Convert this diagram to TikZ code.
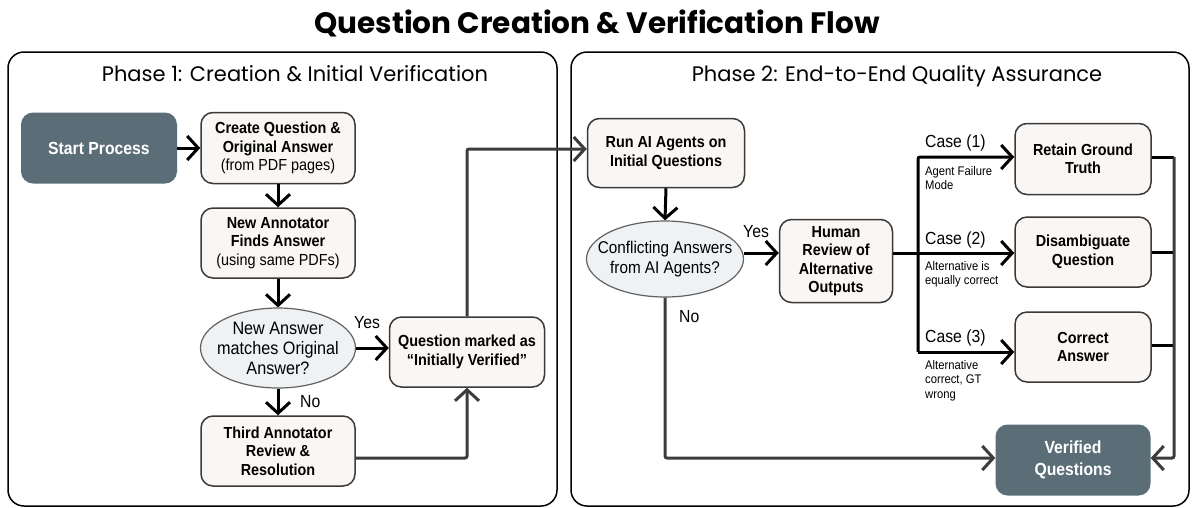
\documentclass[tikz,border=0pt]{standalone}
\usepackage{fontspec}
\setmainfont{Liberation Sans}[FakeStretch=0.9]
\newfontfamily\titlefont{Poppins}
\usetikzlibrary{arrows.meta,shapes.geometric,calc}
\definecolor{slate}{HTML}{5B6E78}
\definecolor{cream}{HTML}{F9F6F3}
\definecolor{mist}{HTML}{EEF2F5}
\definecolor{edge}{HTML}{3A3A3A}
\definecolor{wire}{HTML}{3C3C3C}
\tikzset{
  phasebox/.style={draw=black, line width=1.5pt, rounded corners=16pt},
  phasetitle/.style={font=\titlefont\fontsize{21}{24}\selectfont, anchor=base},
  stepbox/.style={draw=edge, fill=cream, line width=1.5pt, rounded corners=12pt,
    align=center, inner sep=0pt, font=\bfseries\fontsize{16}{18.5}\selectfont},
  darkbox/.style={draw=none, fill=slate, rounded corners=12pt, text=white,
    align=center, inner sep=0pt, font=\bfseries\fontsize{17.5}{22}\selectfont},
  question/.style={ellipse, draw=edge!80, fill=mist, line width=1.2pt,
    inner sep=0pt},
  tip/.style={-{Straight Barb[length=11pt,width=24pt]}},
  flow/.style={line width=3pt, draw=black, tip},
  loop/.style={line width=3pt, draw=wire, rounded corners=2pt, tip},
  bus/.style={line width=3pt, draw=black},
  lbl/.style={font=\fontsize{17.5}{20}\selectfont, inner sep=0pt},
  note/.style={font=\fontsize{12.5}{14.5}\selectfont, align=left, inner sep=0pt},
}
\begin{document}
\begin{tikzpicture}[x=1pt, y=-1pt]
\useasboundingbox (0,0) rectangle (1193,507);

% title and the two phase frames
\node[anchor=base, inner sep=0pt] (title) at (597,33)
  {\titlefont\bfseries\fontsize{29.5}{32}\selectfont Question Creation \& Verification Flow};
\draw[phasebox] (8,52) rectangle (557,506);
\draw[phasebox] (571,52) rectangle (1189,506);
\node[phasetitle] (p1) at (295,81) {Phase 1: Creation \& Initial Verification};
\node[phasetitle] (p2) at (897,81) {Phase 2: End-to-End Quality Assurance};

% phase 1 nodes
\node[darkbox, minimum width=156pt, minimum height=71pt] (start) at (99,148) {Start Process};
\node[stepbox, minimum width=154pt, minimum height=71pt] (create) at (278,148)
  {Create Question \&\\Original Answer\\{\mdseries (from PDF pages)}};
\node[stepbox, minimum width=154pt, minimum height=70pt] (newann) at (278,243)
  {New Annotator\\Finds Answer\\{\mdseries (using same PDFs)}};
\node[question, minimum width=155pt, minimum height=80pt,
  label={[align=center, inner sep=0pt, font=\fontsize{18}{20}\selectfont]center:New Answer\\matches Original\\Answer?}]
  (match) at (278,348) {};
\node[stepbox, minimum width=154pt, minimum height=70pt] (third) at (278,451)
  {Third Annotator\\Review \&\\Resolution};
\node[stepbox, minimum width=155pt, minimum height=70pt] (marked) at (467,352)
  {Question marked as\\``Initially Verified''};

% phase 2 nodes
\node[stepbox, minimum width=157pt, minimum height=69pt] (run) at (666,153)
  {Run AI Agents on\\Initial Questions};
\node[question, minimum width=157pt, minimum height=76pt,
  label={[align=center, inner sep=0pt, font=\fontsize{17}{19.5}\selectfont]center:Conflicting Answers\\from AI Agents?}]
  (conflict) at (665,259) {};
\node[stepbox, minimum width=113pt, minimum height=83pt] (human) at (836,261)
  {Human\\Review of\\Alternative\\Outputs};
\node[stepbox, minimum width=136pt, minimum height=71pt] (retain) at (1083,159)
  {Retain Ground\\Truth};
\node[stepbox, minimum width=136pt, minimum height=70pt] (disamb) at (1083,252)
  {Disambiguate\\Question};
\node[stepbox, minimum width=136pt, minimum height=70pt] (correct) at (1083,347)
  {Correct\\Answer};
\node[darkbox, minimum width=155pt, minimum height=71pt] (verified) at (1073,460)
  {Verified\\Questions};

% phase 1 connectors
\draw[flow] (start.east) -- (create.west);
\draw[flow] (create.south) -- (newann.north);
\draw[flow] (newann.south) -- (match.north);
\draw[flow] (match.east) -- (match.east -| marked.west);
\node[lbl, anchor=south west] (yes1) at (354,329) {Yes};
\draw[flow] (match.south) -- (third.north);
\node[lbl, anchor=west] (no1) at (300,402) {No};
\draw[loop] ($(third.east)+(0,7)$) -| (marked.south);
\draw[loop] (marked.north) |- ($(run.west)+(0,-4)$);

% phase 2 connectors
\draw[flow] (run.south) -- (conflict.north);
\coordinate (cyes) at ($(conflict.east)+(0,-6)$);
\draw[flow] (cyes) -- (cyes -| human.west);
\node[lbl, anchor=south west] (yes2) at (743,238) {Yes};
\draw[loop] (conflict.south) |- ($(verified.west)+(0,-2)$);
\node[lbl, anchor=west] (no2) at (679,317) {No};

\coordinate (split) at (918,253);
\coordinate (splittop) at (918,157);
\coordinate (splitbot) at (918,352);
\draw[bus] (human.east |- split) -- (split);
\draw[flow] (split) -- (split -| disamb.west);
\draw[line width=3pt, rounded corners=2pt, tip]
  (splitbot) -- (splittop) -- (splittop -| retain.west);
\draw[flow] (splitbot) -- (splitbot -| correct.west);

\node[lbl, anchor=west] (case1) at (925,143) {Case (1)};
\node[note, anchor=north west] (n1) at (925,166) {Agent Failure\\Mode};
\node[lbl, anchor=west] (case2) at (925,240) {Case (2)};
\node[note, anchor=north west] (n2) at (925,261) {Alternative is\\equally correct};
\node[lbl, anchor=west] (case3) at (925,338) {Case (3)};
\node[note, anchor=north west] (n3) at (925,360) {Alternative\\correct, GT\\wrong};

\coordinate (bustop) at (1174,157);
\coordinate (busbot) at (1174,458);
\draw[bus] (bustop -| retain.east) -- (bustop);
\draw[bus] (disamb.east) -- (disamb.east -| bustop);
\draw[bus] (correct.east |- 0,345) -- (1174,345);
\draw[loop] (bustop) -- (busbot) -- (busbot -| verified.east);
\end{tikzpicture}
\end{document}
